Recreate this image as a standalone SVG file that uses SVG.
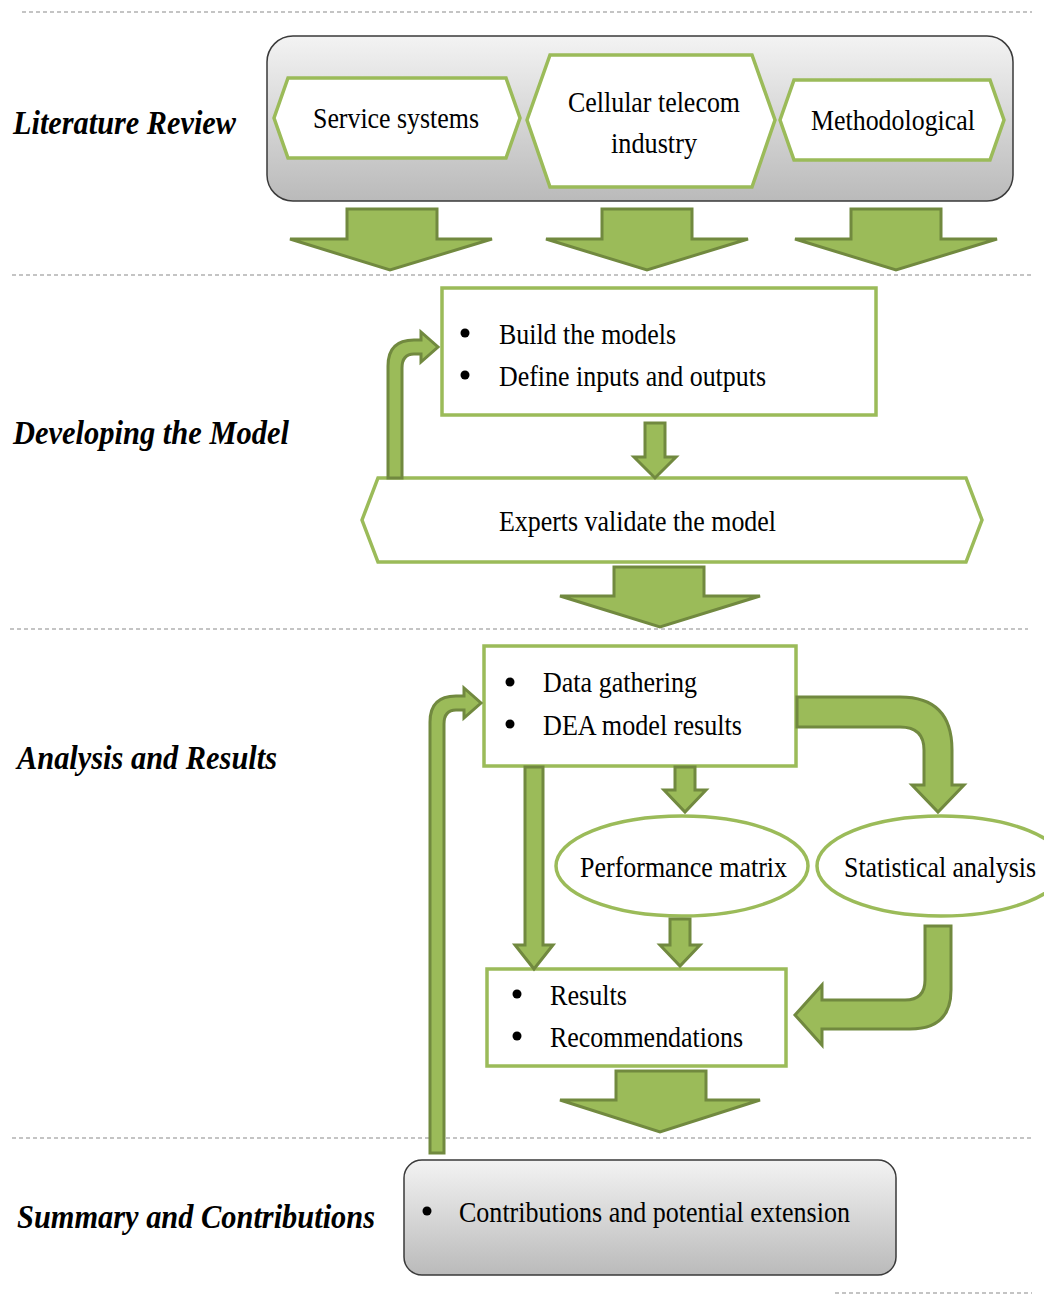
<svg xmlns="http://www.w3.org/2000/svg" width="1044" height="1295" viewBox="0 0 1044 1295">
<defs>
<linearGradient id="gray" x1="0" y1="0" x2="0" y2="1">
<stop offset="0" stop-color="#f3f3f3"/>
<stop offset="1" stop-color="#bababa"/>
</linearGradient>
<style>
.dash{stroke:#8a8a8a;stroke-width:1.2;stroke-dasharray:4 3;fill:none}
.gbox{fill:url(#gray);stroke:#3a3a3a;stroke-width:1.5}
.wnode{fill:#ffffff;stroke:#9bbb59;stroke-width:3.5}
.arr{fill:#9bbb59;stroke:#71893f;stroke-width:3;stroke-linejoin:miter}
.t{font-family:"Liberation Serif","Times New Roman",serif;font-size:29px;fill:#000}
.h{font-family:"Liberation Serif","Times New Roman",serif;font-size:34px;font-weight:bold;font-style:italic;fill:#000}
.b{fill:#000}
</style>
</defs>
<rect width="1044" height="1295" fill="#ffffff"/>
<g id="separators">
<line class="dash" x1="22" y1="12" x2="1032" y2="12"/>
<line class="dash" x1="12" y1="275" x2="1032" y2="275"/>
<line class="dash" x1="10" y1="629" x2="1028" y2="629"/>
<line class="dash" x1="12" y1="1138" x2="1032" y2="1138"/>
<line class="dash" x1="835" y1="1293" x2="1032" y2="1293"/>
</g>
<g id="section-labels">
<text class="h" x="13" y="134" textLength="223" lengthAdjust="spacingAndGlyphs">Literature Review</text>
<text class="h" x="13" y="444" textLength="276" lengthAdjust="spacingAndGlyphs">Developing the Model</text>
<text class="h" x="17" y="769" textLength="260" lengthAdjust="spacingAndGlyphs">Analysis and Results</text>
<text class="h" x="17" y="1228" textLength="358" lengthAdjust="spacingAndGlyphs">Summary and Contributions</text>
</g>
<g id="literature-review">
<rect class="gbox" x="267" y="36" width="746" height="165" rx="26"/>
</g>
<g id="service-systems">
<polygon class="wnode" points="274,118 288,78 506,78 520,118 506,158 288,158"/>
<text class="t" x="313" y="128" textLength="166" lengthAdjust="spacingAndGlyphs">Service systems</text>
</g>
<g id="cellular-telecom">
<polygon class="wnode" points="527,120 550,55 752,55 775,120 752,187 550,187"/>
<text class="t" x="568" y="112" textLength="172" lengthAdjust="spacingAndGlyphs">Cellular telecom</text>
<text class="t" x="611" y="153" textLength="86" lengthAdjust="spacingAndGlyphs">industry</text>
</g>
<g id="methodological">
<polygon class="wnode" points="780,120 794,80 990,80 1004,120 990,160 794,160"/>
<text class="t" x="811" y="130" textLength="164" lengthAdjust="spacingAndGlyphs">Methodological</text>
</g>
<g id="build-models">
<rect class="wnode" x="442" y="288" width="434" height="127"/>
<circle class="b" cx="465" cy="333" r="4.5"/>
<circle class="b" cx="465" cy="375" r="4.5"/>
<text class="t" x="499" y="344" textLength="177" lengthAdjust="spacingAndGlyphs">Build the models</text>
<text class="t" x="499" y="386" textLength="267" lengthAdjust="spacingAndGlyphs">Define inputs and outputs</text>
</g>
<g id="experts-validate">
<polygon class="wnode" points="362,520 378,478 966,478 982,520 966,562 378,562"/>
<text class="t" x="499" y="531" textLength="277" lengthAdjust="spacingAndGlyphs">Experts validate the model</text>
</g>
<g id="data-gathering">
<rect class="wnode" x="484" y="646" width="312" height="120"/>
<circle class="b" cx="510" cy="682" r="4.5"/>
<circle class="b" cx="510" cy="724" r="4.5"/>
<text class="t" x="543" y="692" textLength="154" lengthAdjust="spacingAndGlyphs">Data gathering</text>
<text class="t" x="543" y="735" textLength="199" lengthAdjust="spacingAndGlyphs">DEA model results</text>
</g>
<g id="performance-matrix">
<ellipse class="wnode" cx="682" cy="866" rx="126" ry="50"/>
<text class="t" x="580" y="877" textLength="207" lengthAdjust="spacingAndGlyphs">Performance matrix</text>
</g>
<g id="statistical-analysis">
<ellipse class="wnode" cx="941" cy="866" rx="124" ry="50"/>
<text class="t" x="844" y="877" textLength="192" lengthAdjust="spacingAndGlyphs">Statistical analysis</text>
</g>
<g id="results">
<rect class="wnode" x="487" y="969" width="299" height="97"/>
<circle class="b" cx="517" cy="994" r="4.5"/>
<circle class="b" cx="517" cy="1036" r="4.5"/>
<text class="t" x="550" y="1005" textLength="77" lengthAdjust="spacingAndGlyphs">Results</text>
<text class="t" x="550" y="1047" textLength="193" lengthAdjust="spacingAndGlyphs">Recommendations</text>
</g>
<g id="summary">
<rect class="gbox" x="404" y="1160" width="492" height="115" rx="18"/>
<circle class="b" cx="427" cy="1211" r="4.5"/>
<text class="t" x="459" y="1222" textLength="391" lengthAdjust="spacingAndGlyphs">Contributions and potential extension</text>
</g>
<g id="connectors">
<polygon class="arr" points="347,209 437,209 437,239 492,239 390,270 290,239 347,239"/>
<polygon class="arr" points="602,209 692,209 692,239 748,239 647,270 546,239 602,239"/>
<polygon class="arr" points="851,209 941,209 941,239 997,239 896,270 795,239 851,239"/>
<polygon class="arr" points="645,423 665,423 665,457 676,457 655,478 634,457 645,457"/>
<path class="arr" d="M388,478 L388,366 Q388,340 414,340 L421,340 L421,332 L438,347 L421,362 L421,354 L414,354 Q402,354 402,368 L402,478 Z"/>
<polygon class="arr" points="614,567 704,567 704,596 760,596 660,627 560,596 614,596"/>
<path class="arr" d="M430,1153 L430,722 Q430,696 456,696 L464,696 L464,688 L481,703 L464,718 L464,710 L456,710 Q444,710 444,724 L444,1153 Z"/>
<path class="arr" d="M797,697 L900,697 Q952,697 952,750 L952,785 L964,785 L938,812 L912,785 L924,785 L924,750 Q924,727 900,727 L797,727 Z"/>
<polygon class="arr" points="675,767 695,767 695,790 706,790 685,812 664,790 675,790"/>
<polygon class="arr" points="525,767 543,767 543,945 553,945 534,969 515,945 525,945"/>
<polygon class="arr" points="670,919 690,919 690,945 700,945 680,966 660,945 670,945"/>
<path class="arr" d="M951,926 L951,990 Q951,1029 910,1029 L822,1029 L822,1045 L795,1015 L822,985 L822,1000 L905,1000 Q925,1000 925,980 L925,926 Z"/>
<polygon class="arr" points="616,1071 706,1071 706,1100 760,1100 660,1132 560,1100 616,1100"/>
</g>
</svg>
